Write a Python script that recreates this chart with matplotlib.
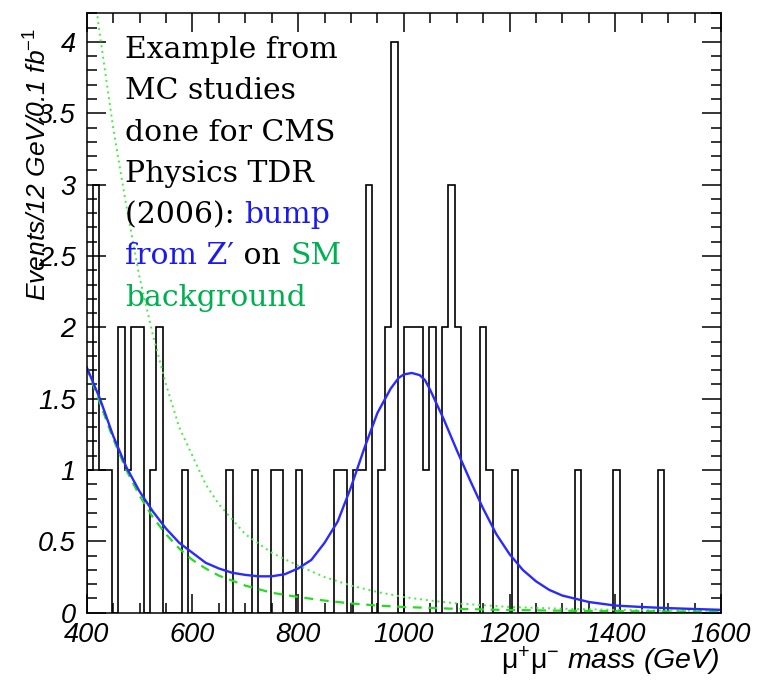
import numpy as np
import matplotlib
matplotlib.use("Agg")
import matplotlib.pyplot as plt
from matplotlib.ticker import MultipleLocator, FuncFormatter

plt.rcParams['font.family'] = ['Liberation Sans', 'DejaVu Sans']
plt.rcParams['mathtext.fontset'] = 'custom'
plt.rcParams['mathtext.rm'] = 'Liberation Sans'
plt.rcParams['mathtext.it'] = 'Liberation Sans:italic'

# dimuon mass spectrum, 12 GeV bins from 400 to 1600 GeV
edges = np.arange(400, 1601, 12)
counts = [1, 3, 1, 1, 0, 2, 1, 2, 2, 0,
          1, 2, 0, 0, 0, 1, 0, 0, 0, 0,
          0, 0, 1, 0, 0, 0, 1, 0, 0, 1,
          1, 0, 0, 1, 0, 0, 0, 0, 0, 1,
          1, 0, 1, 1, 3, 0, 1, 2, 4, 0,
          2, 2, 2, 1, 2, 0, 2, 3, 2, 0,
          0, 0, 2, 1, 0, 0, 0, 1, 0, 0,
          0, 0, 0, 0, 0, 0, 0, 1, 0, 0,
          0, 0, 0, 1, 0, 0, 0, 0, 0, 0,
          1, 0, 0, 0, 0, 0, 0, 0, 0, 0]

# signal + background fit
sig_mass = [400, 425, 450, 475, 500, 525, 550, 575, 600, 625, 650, 675, 700,
            725, 750, 775, 800, 825, 850, 875, 900, 925, 950, 975, 990,
            1000, 1015, 1030, 1040, 1050, 1075, 1100, 1125, 1150, 1175,
            1200, 1225, 1250, 1275, 1300, 1350, 1400, 1450, 1500, 1550, 1600]
sig_val = [1.72, 1.50, 1.24, 1.02, 0.85, 0.71, 0.59, 0.49, 0.42, 0.35, 0.31,
           0.28, 0.265, 0.255, 0.255, 0.27, 0.31, 0.37, 0.49, 0.64, 0.88,
           1.15, 1.40, 1.57, 1.645, 1.67, 1.68, 1.665, 1.63, 1.56, 1.36,
           1.14, 0.93, 0.73, 0.55, 0.41, 0.30, 0.22, 0.16, 0.12, 0.075,
           0.05, 0.04, 0.032, 0.026, 0.02]

# SM background fit
bkg_mass = [400, 425, 450, 475, 500, 525, 550, 575, 600, 625, 650, 700, 750,
            800, 850, 900, 950, 1000, 1100, 1200, 1300, 1400, 1500, 1600]
bkg_val = [1.72, 1.47, 1.22, 1.0, 0.82, 0.67, 0.55, 0.45, 0.37, 0.31, 0.26,
           0.19, 0.14, 0.11, 0.085, 0.065, 0.05, 0.04, 0.027, 0.019, 0.014,
           0.011, 0.009, 0.007]

# background shape, unnormalised
shape_mass = [400, 425, 450, 475, 500, 525, 550, 575, 600, 625, 650, 700,
              750, 800, 850, 900, 950, 1000, 1050, 1100, 1200, 1300, 1400,
              1500, 1600]
shape_val = [4.75, 4.05, 3.4, 2.85, 2.35, 1.95, 1.6, 1.3, 1.1, 0.9, 0.76,
             0.55, 0.42, 0.33, 0.25, 0.19, 0.145, 0.11, 0.085, 0.065, 0.04,
             0.028, 0.02, 0.015, 0.012]

fig = plt.figure(figsize=(7.67, 6.8), dpi=100)
ax = fig.add_axes([86.7 / 767, 1 - 612.7 / 680, 634.3 / 767, 599.3 / 680])

ax.stairs(counts, edges, color='black', lw=1.2, baseline=0)
ax.plot(shape_mass, shape_val, color='#44ee44', lw=1.4, ls=(0, (1, 2)))
ax.plot(bkg_mass, bkg_val, color='#22dd22', lw=1.6, ls=(0, (4, 3)))
ax.plot(sig_mass, sig_val, color='#2a2aff', lw=1.7)

ax.set_xlim(400, 1600)
ax.set_ylim(0, 4.2)
ax.xaxis.set_major_locator(MultipleLocator(200))
ax.xaxis.set_minor_locator(MultipleLocator(50))
ax.yaxis.set_major_locator(MultipleLocator(0.5))
ax.yaxis.set_minor_locator(MultipleLocator(0.1))
ax.yaxis.set_major_formatter(FuncFormatter(lambda v, p: '%g' % v))
ax.tick_params(which='both', direction='in', top=True, right=True, width=1.1)
ax.tick_params(which='major', length=13.5)
ax.tick_params(which='minor', length=7)
ax.tick_params(axis='x', pad=7)
ax.tick_params(axis='y', pad=8)
for lab in ax.get_xticklabels() + ax.get_yticklabels():
    lab.set_fontsize(19.5)
    lab.set_style('italic')
for sp in ax.spines.values():
    sp.set_linewidth(1.1)

ax.set_ylabel(r'Events/12 GeV/0.1 fb$^{-1}$', fontsize=19, style='italic',
              loc='top')
ax.yaxis.set_label_coords(-0.055, 0.976)
ax.set_xlabel(r'$\mathrm{\mu^{+}\mu^{-}}$ mass (GeV)', fontsize=20.5,
              style='italic', loc='right')
ax.xaxis.set_label_coords(0.997, -0.053)

# caption, split so parts can be coloured
lines = [
    [('Example from', 'black')],
    [('MC studies', 'black')],
    [('done for CMS', 'black')],
    [('Physics TDR', 'black')],
    [('(2006): ', 'black'), ('bump', '#1a1aee')],
    [('from Z\u2032', '#1a1aee'), (' on ', 'black'), ('SM', '#00b050')],
    [('background', '#00b050')],
]
serif = ['DejaVu Serif']
for i, parts in enumerate(lines):
    base = 58 + 41.3 * i
    txt, col = parts[0]
    prev = fig.text(125 / 767, 1 - base / 680, txt, color=col, fontsize=21.5,
                    family=serif, va='baseline')
    for txt, col in parts[1:]:
        prev = ax.annotate(txt, xy=(1, 0), xycoords=prev, va='bottom',
                           color=col, fontsize=21.5, family=serif)

fig.savefig('out.png', dpi=100)
